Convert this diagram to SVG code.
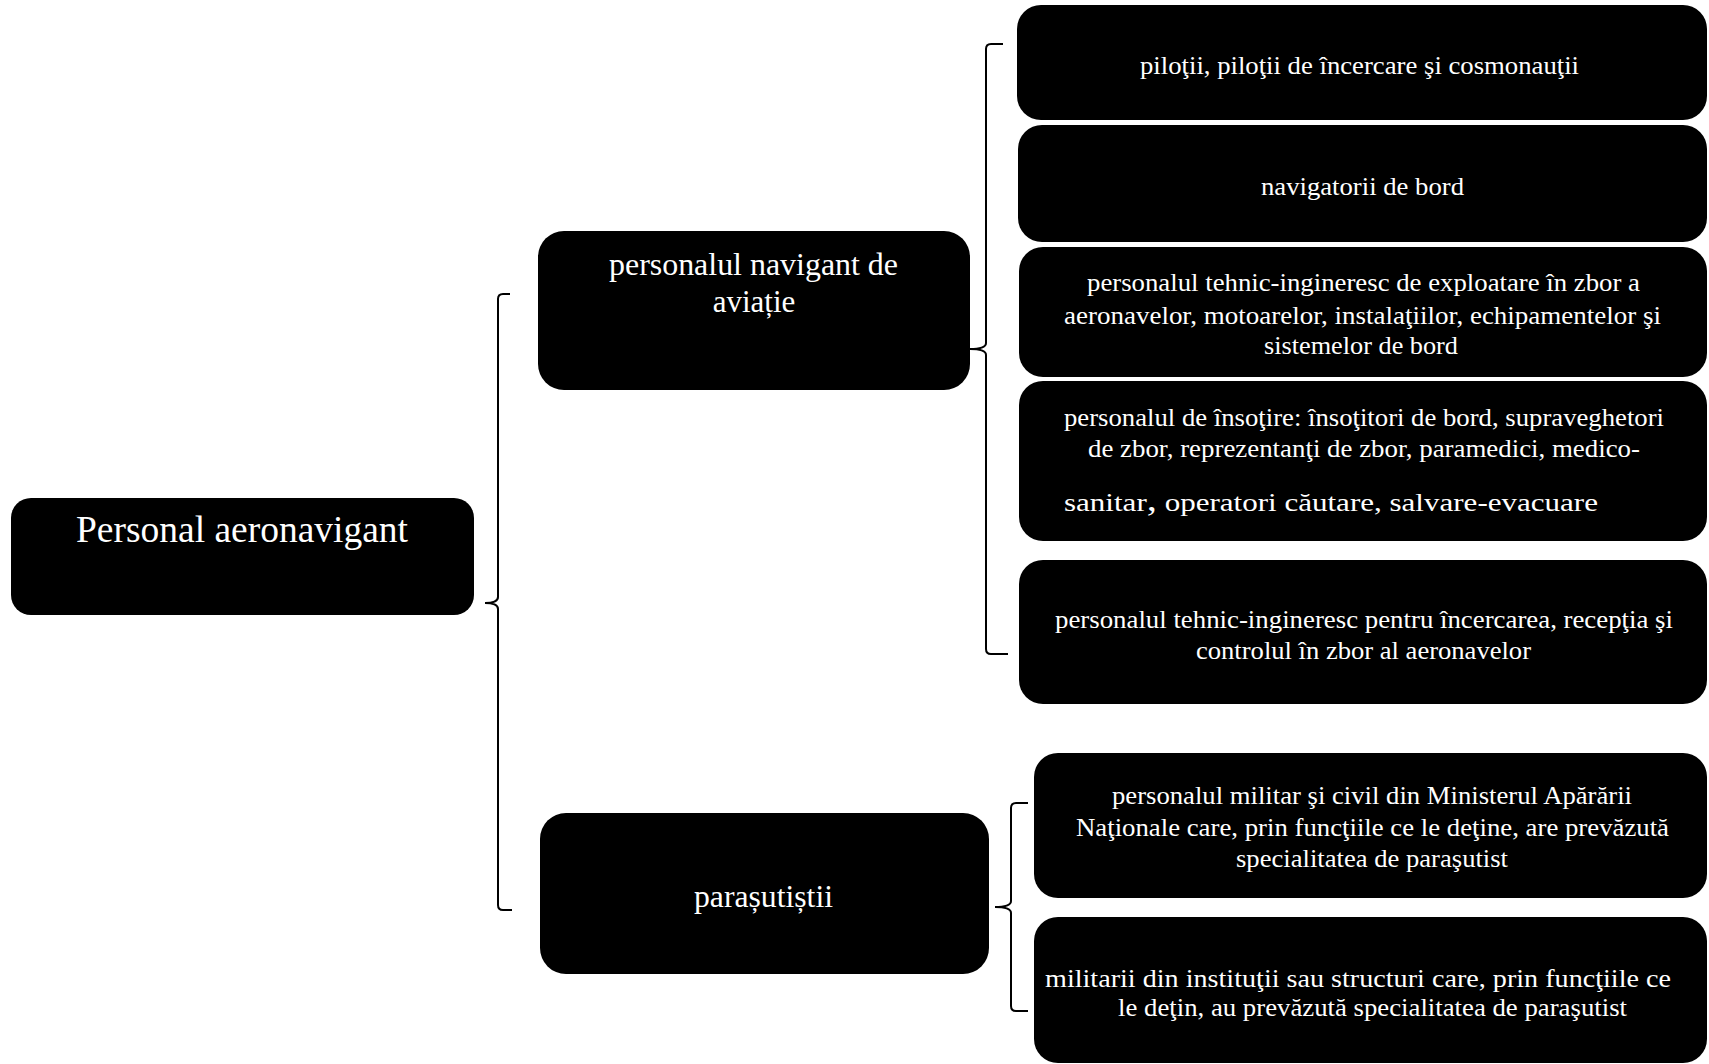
<svg xmlns="http://www.w3.org/2000/svg" width="1709" height="1064" viewBox="0 0 1709 1064">
<style>
.box{fill:#000;}
.t{font-family:"Liberation Serif","Times New Roman",serif;fill:#fff;}
.big{font-size:37px;}
.mid{font-size:31px;}
.sm{font-size:26px;}
.br{fill:none;stroke:#000;stroke-width:2;}
</style>
<rect width="1709" height="1064" fill="#fff"/>
<g id="connectors">
<path class="br" d="M510,294 L503,294 Q498,294 498,299 L498,597 Q498,603 485,603 Q498,603 498,609 L498,905 Q498,910 503,910 L512,910"/>
<path class="br" d="M1003,44 L991,44 Q986,44 986,49 L986,343 Q986,349 970,349 Q986,349 986,355 L986,649 Q986,654 991,654 L1008,654"/>
<path class="br" d="M1028,803 L1016,803 Q1011,803 1011,808 L1011,901 Q1011,907 995,907 Q1011,907 1011,913 L1011,1006 Q1011,1011 1016,1011 L1028,1011"/>
</g>
<g id="root">
<rect class="box" x="11" y="498" width="463" height="117" rx="20"/>
<text class="t big" x="76" y="542" textLength="332" lengthAdjust="spacingAndGlyphs">Personal aeronavigant</text>
</g>
<g id="navigant">
<rect class="box" x="538" y="231" width="432" height="159" rx="26"/>
<text class="t mid" x="609" y="275" textLength="289" lengthAdjust="spacingAndGlyphs">personalul navigant de</text>
<text class="t mid" x="754" y="312" text-anchor="middle">aviație</text>
</g>
<g id="parasutisti">
<rect class="box" x="540" y="813" width="449" height="161" rx="26"/>
<text class="t mid" x="694" y="907" textLength="139" lengthAdjust="spacingAndGlyphs">parașutiștii</text>
</g>
<g id="piloti">
<rect class="box" x="1017" y="5" width="690" height="115" rx="24"/>
<text class="t sm" x="1140" y="74" textLength="439" lengthAdjust="spacingAndGlyphs">piloţii, piloţii de încercare şi cosmonauţii</text>
</g>
<g id="navigatori">
<rect class="box" x="1018" y="125" width="689" height="117" rx="24"/>
<text class="t sm" x="1261" y="195" textLength="203" lengthAdjust="spacingAndGlyphs">navigatorii de bord</text>
</g>
<g id="tehnic-exploatare">
<rect class="box" x="1019" y="247" width="688" height="130" rx="24"/>
<text class="t sm" x="1087" y="291" textLength="553" lengthAdjust="spacingAndGlyphs">personalul tehnic-ingineresc de exploatare în zbor a</text>
<text class="t sm" x="1064" y="324" textLength="597" lengthAdjust="spacingAndGlyphs">aeronavelor, motoarelor, instalaţiilor, echipamentelor şi</text>
<text class="t sm" x="1264" y="354" textLength="194" lengthAdjust="spacingAndGlyphs">sistemelor de bord</text>
</g>
<g id="insotire">
<rect class="box" x="1019" y="381" width="688" height="160" rx="24"/>
<text class="t sm" x="1064" y="426" textLength="600" lengthAdjust="spacingAndGlyphs">personalul de însoţire: însoţitori de bord, supraveghetori</text>
<text class="t sm" x="1088" y="457" textLength="552" lengthAdjust="spacingAndGlyphs">de zbor, reprezentanţi de zbor, paramedici, medico-</text>
<text class="t sm" x="1064" y="511" textLength="534" lengthAdjust="spacingAndGlyphs">sanitar<tspan font-size="34px">,</tspan>  operatori căutare, salvare-evacuare</text>
</g>
<g id="tehnic-incercare">
<rect class="box" x="1019" y="560" width="688" height="144" rx="24"/>
<text class="t sm" x="1055" y="628" textLength="618" lengthAdjust="spacingAndGlyphs">personalul tehnic-ingineresc pentru încercarea, recepţia şi</text>
<text class="t sm" x="1196" y="659" textLength="335" lengthAdjust="spacingAndGlyphs">controlul în zbor al aeronavelor</text>
</g>
<g id="militar-civil">
<rect class="box" x="1034" y="753" width="673" height="145" rx="24"/>
<text class="t sm" x="1112" y="804" textLength="520" lengthAdjust="spacingAndGlyphs">personalul militar şi civil din Ministerul Apărării</text>
<text class="t sm" x="1076" y="836" textLength="593" lengthAdjust="spacingAndGlyphs">Naţionale care, prin funcţiile ce le deţine, are prevăzută</text>
<text class="t sm" x="1236" y="867" textLength="272" lengthAdjust="spacingAndGlyphs">specialitatea de paraşutist</text>
</g>
<g id="militarii">
<rect class="box" x="1034" y="917" width="673" height="146" rx="24"/>
<text class="t sm" x="1045" y="987" textLength="626" lengthAdjust="spacingAndGlyphs">militarii din instituţii sau structuri care, prin funcţiile ce</text>
<text class="t sm" x="1118" y="1016" textLength="509" lengthAdjust="spacingAndGlyphs">le deţin, au prevăzută specialitatea de paraşutist</text>
</g>
</svg>
